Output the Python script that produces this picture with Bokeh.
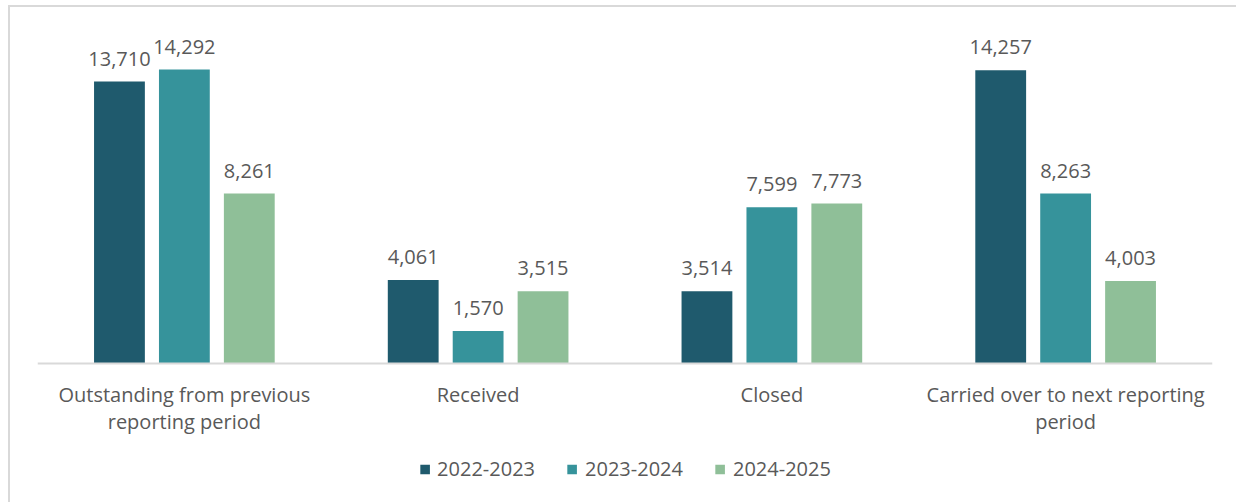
from bokeh.plotting import figure
from bokeh.models import ColumnDataSource, FactorRange, LabelSet, Legend, LegendItem, Span
from bokeh.core.properties import value
from bokeh.transform import dodge
from bokeh.embed import file_html
from bokeh.resources import INLINE

categories = ["Outstanding from previous reporting period", "Received", "Closed",
              "Carried over to next reporting period"]
category_labels = ["Outstanding from previous\nreporting period", "Received", "Closed",
                   "Carried over to next reporting\nperiod"]
series_names = ["2022-2023", "2023-2024", "2024-2025"]
v_2022 = [13710, 4061, 3514, 14257]
v_2023 = [14292, 1570, 7599, 8263]
v_2024 = [8261, 3515, 7773, 4003]
colors = ["#1F5A6D", "#36939B", "#8FBF98"]

FONT = "Open Sans"
TXT = "#595959"
FS = "20px"

p = figure(x_range=FactorRange(*categories, range_padding=0), y_range=(-6865, 16000),
           width=1228, height=497, output_backend="svg", toolbar_location=None,
           min_border_left=27, min_border_right=26, min_border_top=27, min_border_bottom=0)
p.outline_line_color = None
p.grid.visible = False
p.axis.visible = False
p.styles = {"margin-left": "8px", "margin-top": "5px",
            "border-left": "2px solid #d9d9d9", "border-top": "2px solid #d9d9d9"}

p.add_layout(Span(location=0, dimension="width", line_color="#d9d9d9", line_width=2))

offsets = [-0.221, 0.0, 0.221]
vals = [v_2022, v_2023, v_2024]
items = []
for name, v, off, c in zip(series_names, vals, offsets, colors):
    src = ColumnDataSource(dict(cat=categories, val=v, lab=[f"{x:,}" for x in v]))
    r = p.vbar(x=dodge("cat", off, range=p.x_range), top="val", width=0.173, source=src,
               fill_color=c, line_color=None)
    items.append(LegendItem(label=name, renderers=[r]))
    p.add_layout(LabelSet(x=dodge("cat", off, range=p.x_range), y="val", text="lab", source=src,
                          text_align="center", text_baseline="alphabetic", y_offset=16,
                          text_font=value(FONT), text_font_size=FS, text_color=TXT))

csrc = ColumnDataSource(dict(cat=categories, y=[0] * len(categories), lab=category_labels))
p.text(x="cat", y="y", text="lab", source=csrc, text_align="center", text_baseline="top",
       y_offset=18, text_font=value(FONT), text_font_size=FS, text_color=TXT,
       text_line_height=1.0)

leg = Legend(items=items, orientation="horizontal", location="bottom_center",
             glyph_width=12, glyph_height=12, label_standoff=7, spacing=31,
             label_text_font=FONT, label_text_font_size=FS, label_text_color=TXT,
             border_line_color=None, background_fill_alpha=0, padding=0, margin=22)
p.add_layout(leg)

open("out.html", "w").write(file_html(p, INLINE))
